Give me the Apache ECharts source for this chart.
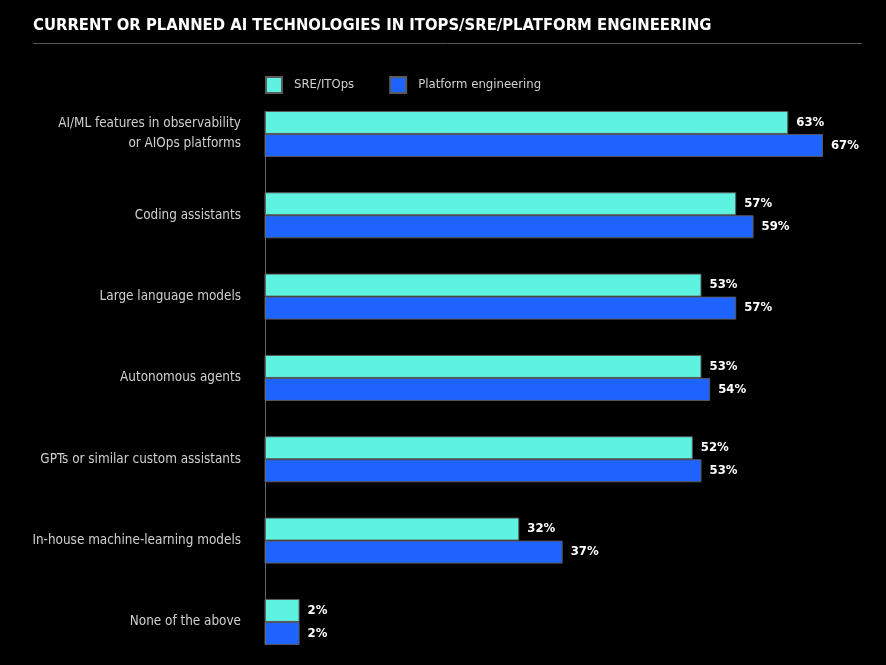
<!DOCTYPE html>
<html>
<head>
<meta charset="utf-8">
<script src="https://cdn.jsdelivr.net/npm/echarts@6/dist/echarts.min.js"></script>
<style>
  html, body { margin: 0; padding: 0; background: #000; }
  #chart { width: 886px; height: 665px; }
</style>
</head>
<body>
<div id="chart"></div>
<script>
// 数据
var categories = [
    'AI/ML features in observability\nor AIOps platforms',
    'Coding assistants',
    'Large language models',
    'Autonomous agents',
    'GPTs or similar custom assistants',
    'In-house machine-learning models',
    'None of the above'
];
var sreValues = [63, 57, 53, 53, 52, 32, 2];
var platformValues = [67, 59, 57, 54, 53, 37, 2];
var seriesNames = ['SRE/ITOps', 'Platform engineering'];

var chart = echarts.init(document.getElementById('chart'));

var labelStyle = {
    show: true,
    position: 'right',
    distance: 8,
    formatter: '{c}%',
    color: '#fff',
    fontWeight: 'bold',
    fontSize: 13,
    fontFamily: 'DejaVu Sans Condensed'
};

var option = {
    backgroundColor: '#000',
    animation: false,
    title: {
        text: 'CURRENT OR PLANNED AI TECHNOLOGIES IN ITOPS/SRE/PLATFORM ENGINEERING',
        left: 33,
        top: 17,
        padding: 0,
        textStyle: {
            color: '#fff',
            fontSize: 16.5,
            fontWeight: 'bold',
            fontFamily: 'DejaVu Sans Condensed'
        }
    },
    legend: {
        data: seriesNames,
        left: 265,
        top: 76,
        padding: 0,
        itemWidth: 16,
        itemHeight: 16,
        itemGap: 35,
        icon: 'rect',
        textStyle: {
            color: '#d0d0d0',
            fontSize: 13,
            fontFamily: 'DejaVu Sans Condensed',
            padding: [0, 0, 0, 7]
        }
    },
    grid: {
        left: 265,
        right: 37,
        top: 93.3,
        bottom: 2.4,
        containLabel: false
    },
    // 横轴零点在标签右端附近，柱子被裁剪到网格左边
    xAxis: {
        type: 'value',
        min: 2.697,
        max: 70,
        show: false
    },
    yAxis: {
        type: 'category',
        data: categories,
        inverse: true,
        axisLine: { show: false },
        axisTick: { show: false },
        splitLine: { show: false },
        axisLabel: {
            color: '#d0d0d0',
            fontSize: 13.4,
            lineHeight: 20,
            margin: 24,
            fontFamily: 'DejaVu Sans Condensed'
        }
    },
    graphic: [
        { // 标题下划线
            type: 'line',
            shape: { x1: 33, y1: 43.5, x2: 862, y2: 43.5 },
            style: { stroke: '#555', lineWidth: 1 }
        },
        { // 纵轴线
            type: 'line',
            shape: { x1: 265.5, y1: 111, x2: 265.5, y2: 645 },
            style: { stroke: '#666', lineWidth: 1 },
            z: 10
        }
    ],
    series: [
        {
            name: seriesNames[0],
            type: 'bar',
            data: sreValues,
            barWidth: 23,
            barGap: '0%',
            barMinHeight: 58,
            clip: true,
            itemStyle: { color: '#5ef2e0', borderColor: '#5a5a5a', borderWidth: 1 },
            label: labelStyle
        },
        {
            name: seriesNames[1],
            type: 'bar',
            data: platformValues,
            barWidth: 23,
            barGap: '0%',
            barMinHeight: 58,
            clip: true,
            itemStyle: { color: '#1f63ff', borderColor: '#5a5a5a', borderWidth: 1 },
            label: labelStyle
        }
    ]
};

chart.setOption(option);
window.addEventListener('resize', chart.resize);
</script>
</body>
</html>
